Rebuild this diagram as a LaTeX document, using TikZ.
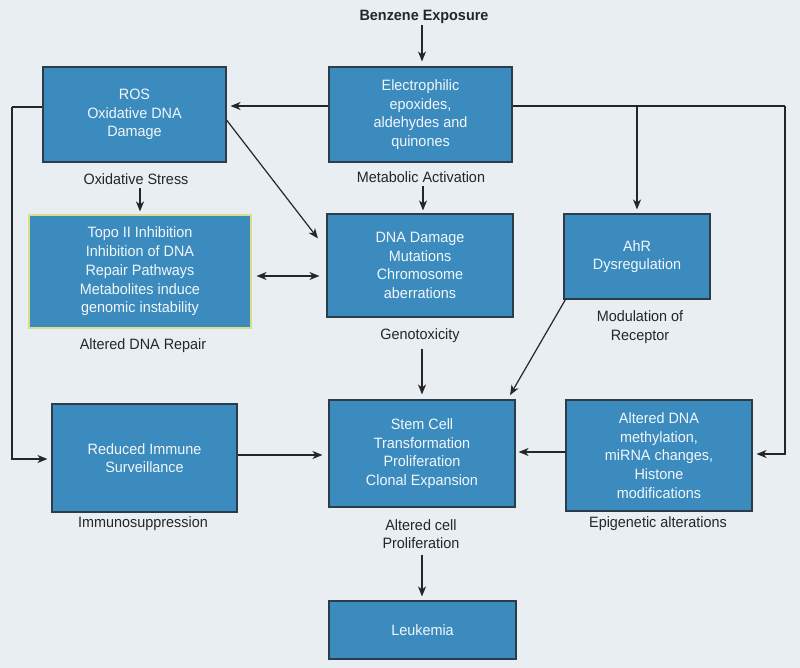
\documentclass[tikz,border=0pt]{standalone}
\usepackage{fontspec}
\setmainfont[FakeStretch=0.96]{Liberation Sans}
\usetikzlibrary{arrows.meta}
\definecolor{bgc}{HTML}{E8EEF1}
\definecolor{boxc}{HTML}{3B8BBF}
\definecolor{edgec}{HTML}{2C3D4A}
\definecolor{yelc}{HTML}{D9DD8C}
\definecolor{linec}{HTML}{262626}
\definecolor{txtc}{HTML}{F2F7FA}
\begin{document}
\begin{tikzpicture}[x=1pt,y=-1pt,
  bx/.style={draw=edgec,line width=1.1pt,fill=boxc,text=txtc,align=center,inner sep=0pt,
    font=\fontsize{15}{18.7}\selectfont},
  lbl/.style={text=linec,align=center,inner sep=1.5pt,font=\fontsize{15}{18.7}\selectfont},
  conn/.style={draw=linec,line width=1.2pt},
  arr/.style={conn,-{Stealth[length=10pt,width=8pt,inset=3pt]}},
  darr/.style={conn,{Stealth[length=10pt,width=8pt,inset=3pt]}-{Stealth[length=10pt,width=8pt,inset=3pt]}}
]
\fill[bgc] (0,0) rectangle (800,668);
\useasboundingbox (0,0) rectangle (800,668);

% boxes
\node[bx,minimum width=183pt,minimum height=95pt] (ros) at (134.5,114.5) {ROS\\Oxidative DNA\\Damage};
\node[bx,minimum width=183pt,minimum height=95pt] (elec) at (420.5,114.5) {Electrophilic\\epoxides,\\aldehydes and\\quinones};
\node[bx,draw=yelc,minimum width=222pt,minimum height=113pt] (topo) at (140,271.5) {Topo II Inhibition\\Inhibition of DNA\\Repair Pathways\\Metabolites induce\\genomic instability};
\node[bx,minimum width=186pt,minimum height=103pt] (dna) at (420,265.5) {DNA Damage\\Mutations\\Chromosome\\aberrations};
\node[bx,minimum width=146pt,minimum height=85pt] (ahr) at (637,256.5) {AhR\\Dysregulation};
\node[bx,minimum width=185pt,minimum height=108pt] (imm) at (144.5,458) {Reduced Immune\\Surveillance};
\node[bx,minimum width=186pt,minimum height=107pt] (stem) at (422,453.5) {Stem Cell\\Transformation\\Proliferation\\Clonal Expansion};
\node[bx,minimum width=186pt,minimum height=111pt] (epi) at (659,455.5) {Altered DNA\\methylation,\\miRNA changes,\\Histone\\modifications};
\node[bx,minimum width=187pt,minimum height=58pt] (leuk) at (422.5,630) {Leukemia};

% labels
\node[lbl,font=\fontsize{15}{18.7}\selectfont\bfseries] (benz) at (424,17) {Benzene Exposure};
\node[lbl] (oxs) at (136,179) {Oxidative Stress};
\node[lbl] (meta) at (421,177) {Metabolic Activation};
\node[lbl] (adr) at (143,346) {Altered DNA Repair};
\node[lbl] (geno) at (420,336) {Genotoxicity};
\node[lbl] (modr) at (640,327) {Modulation of\\Receptor};
\node[lbl] (immu) at (143,524) {Immunosuppression};
\node[lbl] (acp) at (421,534) {Altered cell\\Proliferation};
\node[lbl] (epil) at (658,524) {Epigenetic alterations};

% helper coordinates
\coordinate (rowA) at (0,106);
\coordinate (lft) at (12,107);
\coordinate (rgt) at (785,106);
\coordinate (rowB) at (0,276);
\coordinate (rowC) at (0,455);
\coordinate (rowD) at (0,452);
\coordinate (rowE) at (0,459);
\coordinate (rowF) at (0,454);

% connectors
\draw[arr,shorten >=5pt] (benz.south -| 422,0) -- (elec.north -| 422,0);
\draw[arr,shorten >=4pt] (elec.west |- rowA) -- (ros.east |- rowA);
\draw[conn] (elec.east |- rowA) -- (rgt);
\draw[arr,shorten >=4pt] (rgt) |- (epi.east |- rowF);
\draw[arr,shorten >=4pt] (ahr.north |- rowA) -- (ahr.north);
\draw[conn] (ros.west |- lft) -- (lft);
\draw[arr,shorten >=4pt] (lft) |- (imm.west |- rowE);
\draw[arr,shorten >=14pt] ([yshift=-5.5pt]ros.east) -- ([yshift=16pt]dna.west);
\draw[arr,shorten <=2pt,shorten >=3pt] (topo.north |- oxs.south) -- (topo.north);
\draw[arr,shorten <=2pt,shorten >=3pt] (meta.south -| 423,0) -- (dna.north -| 423,0);
\draw[darr,shorten <=5pt,shorten >=7pt] (topo.east |- rowB) -- (dna.west |- rowB);
\draw[arr,shorten <=4pt,shorten >=5pt] (geno.south -| 422,0) -- (stem.north -| 422,0);
\draw[arr,shorten >=5pt] ([xshift=2pt]ahr.south west) -- ([xshift=-8pt]stem.north east);
\draw[arr,shorten >=6pt] (imm.east |- rowC) -- (stem.west |- rowC);
\draw[arr,shorten >=3pt] (epi.west |- rowD) -- (stem.east |- rowD);
\draw[arr,shorten <=4pt,shorten >=4pt] (acp.south -| 422,0) -- (leuk.north -| 422,0);
\end{tikzpicture}
\end{document}
